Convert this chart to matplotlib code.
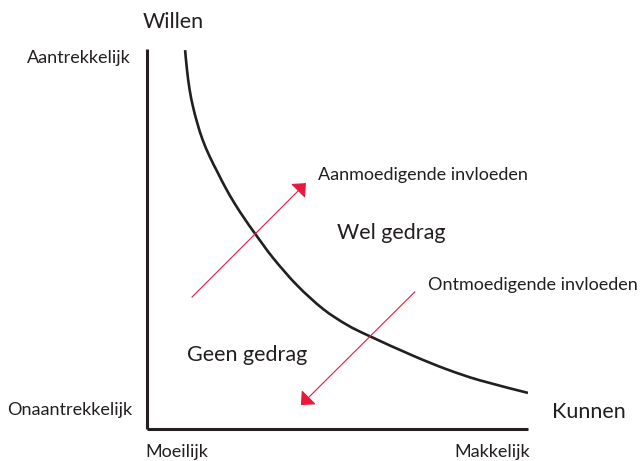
import matplotlib
matplotlib.use("Agg")
import matplotlib.pyplot as plt
from matplotlib.path import Path
from matplotlib.patches import PathPatch

plt.rcParams['font.family'] = ['Lato', 'DejaVu Sans']

W, H = 643, 461
INK = '#231f20'
RED = '#e8193c'

# curve (kunnen 0-10, willen 0-10)
curve_x = [1.00, 1.05, 1.12, 1.21, 1.32, 1.46, 1.65, 1.86, 2.05, 2.29, 2.57,
           2.83, 3.31, 3.94, 4.62, 5.25, 5.85, 6.98, 7.87, 8.74, 10.00]
curve_y = [9.97, 9.45, 8.92, 8.47, 8.05, 7.61, 7.16, 6.74, 6.37, 5.95, 5.52,
           5.15, 4.50, 3.78, 3.16, 2.74, 2.44, 1.93, 1.57, 1.28, 0.95]

# arrows: (start, tip)
up_arrow = ((1.18, 3.47), (4.17, 6.47))
down_arrow = ((7.03, 3.61), (4.04, 0.63))


def fx(px):
    return px / W


def fy(py):
    return 1 - py / H


def smooth_path(xs, ys):
    # catmull-rom through the points, drawn as cubic beziers
    pts = list(zip(xs, ys))
    verts = [pts[0]]
    codes = [Path.MOVETO]
    n = len(pts)
    for i in range(n - 1):
        p0 = pts[max(i - 1, 0)]
        p1 = pts[i]
        p2 = pts[i + 1]
        p3 = pts[min(i + 2, n - 1)]
        c1 = (p1[0] + (p2[0] - p0[0]) / 6, p1[1] + (p2[1] - p0[1]) / 6)
        c2 = (p2[0] - (p3[0] - p1[0]) / 6, p2[1] - (p3[1] - p1[1]) / 6)
        verts += [c1, c2, p2]
        codes += [Path.CURVE4] * 3
    return Path(verts, codes)


fig = plt.figure(figsize=(W / 100, H / 100), dpi=100)
ax = fig.add_axes([fx(147), fy(429), (528 - 147) / W, (429 - 49) / H])
ax.set_xlim(0, 10)
ax.set_ylim(0, 10)
for s in ['top', 'right']:
    ax.spines[s].set_visible(False)
for s in ['left', 'bottom']:
    ax.spines[s].set_linewidth(2.2)
    ax.spines[s].set_color(INK)
    ax.spines[s].set_capstyle('butt')
ax.set_xticks([])
ax.set_yticks([])
ax.patch.set_visible(False)

ax.add_patch(PathPatch(smooth_path(curve_x, curve_y), fill=False,
                       edgecolor=INK, lw=1.9, capstyle='butt'))

for start, tip in [up_arrow, down_arrow]:
    ax.annotate('', xy=tip, xytext=start,
                arrowprops=dict(arrowstyle='-|>,head_length=0.5,head_width=0.45',
                                color=RED, lw=0.8, mutation_scale=14,
                                shrinkA=0, shrinkB=0))

small = 13
big = 15.5
fig.text(fx(173), fy(28), 'Willen', fontsize=big, ha='center', va='baseline', color=INK)
fig.text(fx(131), fy(63), 'Aantrekkelijk', fontsize=small, ha='right', va='baseline', color=INK)
fig.text(fx(132), fy(415), 'Onaantrekkelijk', fontsize=small, ha='right', va='baseline', color=INK)
fig.text(fx(145), fy(457), 'Moeilijk', fontsize=small, ha='left', va='baseline', color=INK)
fig.text(fx(530), fy(457), 'Makkelijk', fontsize=small, ha='right', va='baseline', color=INK)
fig.text(fx(552), fy(418), 'Kunnen', fontsize=big, ha='left', va='baseline', color=INK)
fig.text(fx(318), fy(180), 'Aanmoedigende invloeden', fontsize=small, ha='left', va='baseline', color=INK)
fig.text(fx(337), fy(239), 'Wel gedrag', fontsize=big, ha='left', va='baseline', color=INK)
fig.text(fx(428), fy(290), 'Ontmoedigende invloeden', fontsize=small, ha='left', va='baseline', color=INK)
fig.text(fx(187), fy(361), 'Geen gedrag', fontsize=big, ha='left', va='baseline', color=INK)

fig.savefig('out.png', dpi=100)
